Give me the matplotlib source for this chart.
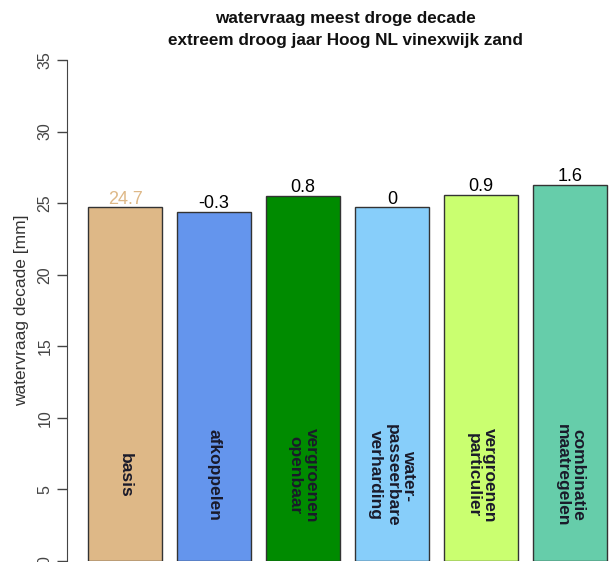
import matplotlib.pyplot as plt

# gegevens
maatregelen = ["basis", "afkoppelen", "vergroenen\nopenbaar", "water-\npasseerbare\nverharding",
               "vergroenen\nparticulier", "combinatie\nmaatregelen"]
watervraag = [24.7, 24.4, 25.5, 24.7, 25.6, 26.3]
labels = ["24.7", "-0.3", "0.8", "0", "0.9", "1.6"]
kleuren = ["#DEB887", "#6495ED", "#008B00", "#87CEFA", "#CAFF70", "#66CDAA"]
label_kleuren = ["#DEB887", "black", "black", "black", "black", "black"]
yticks = [0, 5, 10, 15, 20, 25, 30, 35]

plt.rcParams['font.family'] = ['Liberation Sans', 'DejaVu Sans']

fig = plt.figure(figsize=(6.09, 5.62), dpi=100)
# plotgebied loopt rechts buiten de figuur (zoals in het origineel)
ax = fig.add_axes([67.2 / 609, 1 / 562, (628 - 67.2) / 609, 501 / 562])

links = [0.2 + 1.2 * i for i in range(len(watervraag))]
ax.bar(links, watervraag, width=1.0, align='edge', color=kleuren,
       edgecolor='#333333', linewidth=1.0)

for x, h, lab, kl, naam in zip(links, watervraag, labels, label_kleuren, maatregelen):
    ax.text(x + 0.5, h + 0.25, lab, ha='center', va='baseline', fontsize=13, color=kl)
    ax.text(x + 0.5, 6.0, naam, ha='center', va='center', rotation=270,
            rotation_mode='anchor', multialignment='center', fontsize=12.5,
            fontweight='bold', color='#1a1a2a', linespacing=1.1)

ax.set_xlim(-0.08, 7.48)
ax.set_ylim(0, 35)
ax.set_yticks(yticks)
ax.set_yticklabels([str(t) for t in yticks], rotation=90, va='center',
                   fontsize=11.5, color='#444444')
ax.tick_params(axis='y', length=7, width=1, color='#444444', pad=3.5)
ax.set_xticks([])
for s in ['top', 'right', 'bottom']:
    ax.spines[s].set_visible(False)
ax.spines['left'].set_color('#444444')
ax.set_ylabel("watervraag decade [mm]", fontsize=12.5, color='#333333', labelpad=6)

fig.text(345 / 609, 1 - 18 / 562, "watervraag meest droge decade", ha='center',
         va='center', fontsize=12.3, fontweight='bold', color='#111111')
fig.text(345 / 609, 1 - 41 / 562, "extreem droog jaar Hoog NL vinexwijk zand", ha='center',
         va='center', fontsize=12.3, fontweight='bold', color='#111111')

fig.savefig("out.png", dpi=100)
